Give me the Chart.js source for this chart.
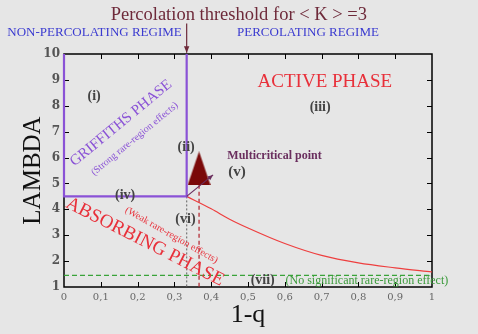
<!DOCTYPE html>
<html>
<head>
<meta charset="utf-8">
<script src="https://cdn.jsdelivr.net/npm/chart.js@4.4.1/dist/chart.umd.min.js"></script>
<style>
  html, body { margin: 0; padding: 0; background: #e6e6e6; }
  canvas { display: block; }
</style>
</head>
<body>
<canvas id="phaseChart" width="478" height="334"></canvas>
<script>
// phase diagram: lambda vs 1-q
var xTicks = [0, 0.1, 0.2, 0.3, 0.4, 0.5, 0.6, 0.7, 0.8, 0.9, 1];
var yTicks = [1, 2, 3, 4, 5, 6, 7, 8, 9, 10];

var qc = 1 / 3;            // percolation threshold
var lambdaGriffiths = 4.5; // griffiths / absorbing border

// griffiths phase box (left, bottom and right edges)
var griffithsX = [0, 0, qc, qc];
var griffithsY = [10, lambdaGriffiths, lambdaGriffiths, 10];

// active / absorbing transition line
var criticalX = [qc, 0.4, 0.45, 0.5, 0.6, 0.7, 0.8, 0.9, 1];
var criticalY = [4.5, 4.02, 3.62, 3.28, 2.68, 2.22, 1.93, 1.74, 1.58];

// no-significant rare region line
var noRareX = [0, 1];
var noRareY = [1.45, 1.45];

// vertical guide lines
var dottedX = [qc, qc];
var dottedY = [4.5, 1];
var dashedX = [0.367, 0.367];
var dashedY = [4.95, 1];

// multicritical marker
var markerX = [0.367];
var markerY = [5.58];

function pts(xs, ys) {
    return xs.map(function (x, i) { return { x: x, y: ys[i] }; });
}

var triangle = document.createElement('canvas');
triangle.width = 23;
triangle.height = 34;
var tc = triangle.getContext('2d');
tc.fillStyle = '#7a0909';
tc.beginPath();
tc.moveTo(11.5, 0);
tc.lineTo(23, 34);
tc.lineTo(0, 34);
tc.closePath();
tc.fill();

var serif = 'Liberation Serif';

// text labels in data coordinates
var labels = [
    { t: 'Percolation threshold for < K > =3', x: 0.475, y: 11.52, size: 18.5, color: '#6e2a3a' },
    { t: 'NON-PERCOLATING REGIME', x: 0.083, y: 10.82, size: 13, color: '#3b3bd0' },
    { t: 'PERCOLATING REGIME', x: 0.663, y: 10.82, size: 13, color: '#3b3bd0' },
    { t: '(i)', x: 0.082, y: 8.35, size: 14, bold: true, color: '#444' },
    { t: 'GRIFFITHS PHASE', x: 0.155, y: 7.33, size: 15, color: '#8a52d6', rot: -39.5 },
    { t: '(Strong rare-region effects)', x: 0.192, y: 6.72, size: 10, color: '#8a52d6', rot: -39.5 },
    { t: '(ii)', x: 0.332, y: 6.4, size: 14, bold: true, color: '#444' },
    { t: 'ACTIVE PHASE', x: 0.709, y: 8.92, size: 19, color: '#e8303a' },
    { t: '(iii)', x: 0.696, y: 7.95, size: 14, bold: true, color: '#444' },
    { t: 'Multicritical point', x: 0.572, y: 6.05, size: 12, bold: true, color: '#6a2e5e' },
    { t: '(v)', x: 0.47, y: 5.45, size: 15, bold: true, color: '#444' },
    { t: '(iv)', x: 0.166, y: 4.55, size: 14, bold: true, color: '#444' },
    { t: 'ABSORBING PHASE', x: 0.22, y: 2.74, size: 19, color: '#e8303a', rot: 27 },
    { t: '(Weak rare-region effects)', x: 0.292, y: 3.0, size: 10, color: '#e8303a', rot: 29.5 },
    { t: '(vi)', x: 0.33, y: 3.6, size: 14, bold: true, color: '#444' },
    { t: '(vii)', x: 0.54, y: 1.27, size: 14, bold: true, color: '#444' },
    { t: '(No significant rare-region effect)', x: 0.823, y: 1.25, size: 12, color: '#3a9a3a' }
];

function arrow(ctx, x1, y1, x2, y2, color, head) {
    var a = Math.atan2(y2 - y1, x2 - x1);
    ctx.save();
    ctx.strokeStyle = color;
    ctx.fillStyle = color;
    ctx.lineWidth = 1.2;
    ctx.beginPath();
    ctx.moveTo(x1, y1);
    ctx.lineTo(x2, y2);
    ctx.stroke();
    ctx.beginPath();
    ctx.moveTo(x2, y2);
    ctx.lineTo(x2 - head * Math.cos(a - 0.4), y2 - head * Math.sin(a - 0.4));
    ctx.lineTo(x2 - head * Math.cos(a + 0.4), y2 - head * Math.sin(a + 0.4));
    ctx.closePath();
    ctx.fill();
    ctx.restore();
}

var framePlugin = {
    id: 'frame',
    beforeDatasetsDraw: function (chart) {
        var ctx = chart.ctx, a = chart.chartArea;
        var xs = chart.scales.x, ys = chart.scales.y;
        ctx.save();
        ctx.strokeStyle = '#000';
        ctx.lineWidth = 1.5;
        ctx.strokeRect(a.left, a.top, a.right - a.left, a.bottom - a.top);
        ctx.lineWidth = 1;
        ctx.beginPath();
        xTicks.slice(1, -1).forEach(function (v) {
            var px = Math.round(xs.getPixelForValue(v)) + 0.5;
            ctx.moveTo(px, a.bottom); ctx.lineTo(px, a.bottom - 5);
            ctx.moveTo(px, a.top); ctx.lineTo(px, a.top + 5);
        });
        yTicks.slice(1, -1).forEach(function (v) {
            var py = Math.round(ys.getPixelForValue(v)) + 0.5;
            ctx.moveTo(a.left, py); ctx.lineTo(a.left + 5, py);
            ctx.moveTo(a.right, py); ctx.lineTo(a.right - 5, py);
        });
        ctx.stroke();
        ctx.restore();
    },
    afterDraw: function (chart) {
        var ctx = chart.ctx;
        var xs = chart.scales.x, ys = chart.scales.y;
        // threshold arrow
        arrow(ctx, xs.getPixelForValue(qc), ys.getPixelForValue(11.18),
              xs.getPixelForValue(qc), ys.getPixelForValue(10.05), '#6e2a3a', 7);
        // multicritical arrow
        arrow(ctx, xs.getPixelForValue(qc), ys.getPixelForValue(4.5),
              xs.getPixelForValue(0.405), ys.getPixelForValue(5.33), '#6a2e5e', 6);
        labels.forEach(function (l) {
            ctx.save();
            ctx.translate(xs.getPixelForValue(l.x), ys.getPixelForValue(l.y));
            if (l.rot) ctx.rotate(l.rot * Math.PI / 180);
            ctx.font = (l.bold ? 'bold ' : '') + l.size + 'px "' + serif + '"';
            ctx.fillStyle = l.color;
            ctx.textAlign = 'center';
            ctx.textBaseline = 'middle';
            ctx.fillText(l.t, 0, 0);
            ctx.restore();
        });
    }
};

var ctx = document.getElementById('phaseChart').getContext('2d');
var myChart = new Chart(ctx, {
    type: 'scatter',
    data: {
        datasets: [{
            data: pts(markerX, markerY),
            pointStyle: triangle,
            pointRadius: 12,
            showLine: false
        }, {
            data: pts(griffithsX, griffithsY),
            borderColor: '#8a52d6',
            borderWidth: 2.2,
            showLine: true,
            pointRadius: 0,
            clip: 3
        }, {
            data: pts(criticalX, criticalY),
            borderColor: '#ee3f3f',
            borderWidth: 1.2,
            showLine: true,
            cubicInterpolationMode: 'monotone',
            pointRadius: 0
        }, {
            data: pts(noRareX, noRareY),
            borderColor: '#39a339',
            borderWidth: 1.2,
            borderDash: [5, 3],
            showLine: true,
            pointRadius: 0
        }, {
            data: pts(dottedX, dottedY),
            borderColor: '#777',
            borderWidth: 1.2,
            borderDash: [2, 2],
            showLine: true,
            pointRadius: 0
        }, {
            data: pts(dashedX, dashedY),
            borderColor: '#b0202a',
            borderWidth: 1.2,
            borderDash: [4, 3],
            showLine: true,
            pointRadius: 0
        }]
    },
    options: {
        responsive: false,
        animation: false,
        layout: { padding: { top: 54, right: 46, left: 0, bottom: 0 } },
        plugins: {
            legend: { display: false },
            tooltip: { enabled: false }
        },
        scales: {
            x: {
                type: 'linear',
                min: 0,
                max: 1,
                afterFit: function (s) { s.height = 47; },
                afterBuildTicks: function (s) { s.ticks = xTicks.map(function (v) { return { value: v }; }); },
                grid: { display: false, drawTicks: false },
                border: { display: false },
                ticks: {
                    padding: 4,
                    color: '#666',
                    font: { family: 'DejaVu Serif', size: 10 },
                    callback: function (v) { return String(Math.round(v * 10) / 10).replace('.', ','); }
                },
                title: {
                    display: true,
                    text: '1-q',
                    color: '#111',
                    font: { family: serif, size: 26 },
                    padding: { top: 0, bottom: 3 }
                }
            },
            y: {
                type: 'linear',
                min: 1,
                max: 10,
                afterFit: function (s) { s.width = 64; },
                afterBuildTicks: function (s) { s.ticks = yTicks.map(function (v) { return { value: v }; }); },
                grid: { display: false, drawTicks: false },
                border: { display: false },
                ticks: {
                    padding: 4,
                    color: '#555',
                    font: { family: 'DejaVu Serif', size: 12, weight: 'bold' }
                },
                title: {
                    display: true,
                    text: 'LAMBDA',
                    color: '#111',
                    font: { family: serif, size: 25 },
                    padding: { top: 18, bottom: 0 }
                }
            }
        }
    },
    plugins: [framePlugin]
});
</script>
</body>
</html>
